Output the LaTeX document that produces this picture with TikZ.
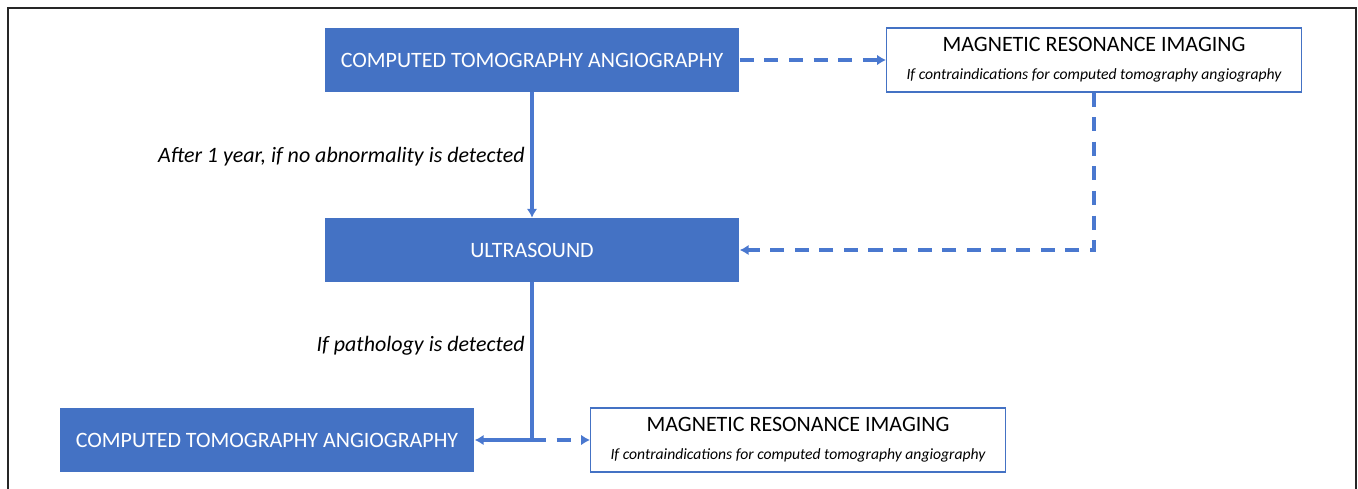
\documentclass[tikz,border=0pt]{standalone}
\usepackage{fontspec}
\setmainfont{Carlito}
\usepackage{xcolor}
\usetikzlibrary{positioning, arrows.meta, calc}

\definecolor{exblue}{HTML}{4472C4}
\definecolor{linkblue}{HTML}{4A78CF}

\begin{document}
\begin{tikzpicture}[
    x=0.02cm, y=-0.02cm,
    exam/.style={draw=none, rectangle, fill=exblue, minimum width=8.3cm, minimum height=1.28cm, align=center, text=white, font=\fontsize{12.5}{15}\selectfont},
    altexam/.style={draw=exblue, line width=0.6pt, rectangle, fill=white, minimum width=8.3cm, minimum height=1.28cm, align=center, font=\fontsize{12.5}{15}\selectfont},
    cond/.style={anchor=east, font=\fontsize{12.5}{15}\selectfont\itshape, inner sep=0pt},
    flow/.style={draw=linkblue, line width=1.8pt, -{Latex[length=5pt,width=6pt]}},
    altflow/.style={flow, dash pattern=on 8pt off 6pt}
]
    \useasboundingbox (0,0) rectangle (1358,488);

    % outer frame (bottom edge cut off)
    \draw[line width=1pt, black!85] (8,495) |- (1356,8) -- (1356,495);

    % --- FIRST EXAM ---
    \node[exam] (cta) at (532,60) {COMPUTED TOMOGRAPHY ANGIOGRAPHY};
    \node[altexam] (mri) at (1094,60) {MAGNETIC RESONANCE IMAGING\\[1pt]
        {\fontsize{8.9}{10}\selectfont\itshape If contraindications for computed tomography angiography}};
    \draw[altflow] (cta) -- (mri);

    % --- FOLLOW-UP ---
    \node[exam] (us) at (532,250) {ULTRASOUND};
    \draw[flow] (cta) -- (us);
    \node[cond] (after) at (525,157) {After 1 year, if no abnormality is detected};
    \draw[altflow] (mri.south) |- (us.east);

    % --- IF PATHOLOGY ---
    \node[exam] (ctb) at (267,440) {COMPUTED TOMOGRAPHY ANGIOGRAPHY};
    \node[altexam] (mrb) at (798,440) {MAGNETIC RESONANCE IMAGING\\[1pt]
        {\fontsize{8.9}{10}\selectfont\itshape If contraindications for computed tomography angiography}};
    \coordinate (split) at (532,440);
    \node[cond] (patho) at (525,346) {If pathology is detected};

    \draw[flow] (us.south) -- (split) -- (ctb.east);
    \draw[altflow] (split) -- (mrb.west);

\end{tikzpicture}
\end{document}
